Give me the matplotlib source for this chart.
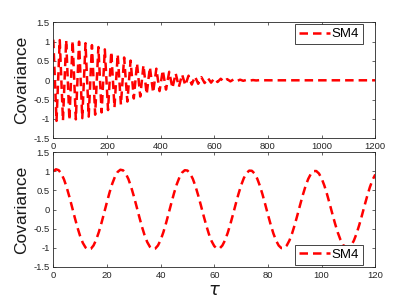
import matplotlib
matplotlib.use("Agg")
import matplotlib.pyplot as plt

# ---- data ----
tau_top = [0, 12, 24, 36, 48, 60, 72, 84, 96, 108, 120, 132, 144, 156, 168, 180, 192, 204, 216, 228,
           240, 252, 264, 276, 288, 300, 312, 324, 336, 348, 360, 372, 384, 396, 408, 420, 432, 444, 456, 468,
           480, 492, 504, 516, 528, 540, 552, 564, 576, 588, 600, 612, 624, 636, 648, 660, 672, 684, 696, 708,
           720, 732, 744, 756, 768, 780, 792, 804, 816, 828, 840, 852, 864, 876, 888, 900, 912, 924, 936, 948,
           960, 972, 984, 996, 1008, 1020, 1032, 1044, 1056, 1068, 1080, 1092, 1104, 1116, 1128, 1140, 1152, 1164,
           1176, 1188, 1200]
cov_top = [1.05, -1.05, 1.04, -1.04, 1.04, -1.03, 1.02, -1.01, 1.00, -0.98, 0.96, -0.94, 0.91, -0.89, 0.86,
           -0.83, 0.80, -0.77, 0.74, -0.70, 0.67, -0.63, 0.59, -0.55, 0.51, -0.47, 0.44, -0.42, 0.39, -0.36,
           0.34, -0.32, 0.30, -0.28, 0.26, -0.24, 0.22, -0.20, 0.18, -0.17, 0.15, -0.13, 0.12, -0.11, 0.10,
           -0.09, 0.08, -0.07, 0.06, -0.06, 0.05, -0.045, 0.04, -0.035, 0.03, -0.027, 0.023, -0.02, 0.016, -0.013,
           0.011, -0.009, 0.006, -0.004, 0.003, -0.002, 0.001, 0, 0, 0, 0, 0, 0, 0, 0, 0, 0, 0, 0, 0,
           0, 0, 0, 0, 0, 0, 0, 0, 0, 0, 0, 0, 0, 0, 0, 0, 0, 0, 0, 0, 0]

tau_bot = list(range(0, 121))
cov_bot = [0.999, 1.049, 1.026, 0.936, 0.782, 0.575, 0.329, 0.062, -0.211, -0.468,
           -0.694, -0.871, -0.990, -1.043, -1.025, -0.938, -0.786, -0.583, -0.340, -0.074,
           0.195, 0.453, 0.679, 0.860, 0.982, 1.037, 1.022, 0.939, 0.792, 0.591,
           0.350, 0.087, -0.182, -0.440, -0.667, -0.849, -0.973, -1.031, -1.019, -0.939,
           -0.795, -0.597, -0.360, -0.097, 0.170, 0.428, 0.655, 0.837, 0.963, 1.025,
           1.016, 0.939, 0.798, 0.605, 0.368, 0.109, -0.159, -0.414, -0.643, -0.827,
           -0.956, -1.019, -1.014, -0.940, -0.802, -0.610, -0.377, -0.120, 0.147, 0.403,
           0.632, 0.818, 0.948, 1.014, 1.010, 0.939, 0.804, 0.616, 0.385, 0.129,
           -0.137, -0.391, -0.621, -0.807, -0.940, -1.007, -1.008, -0.939, -0.807, -0.622,
           -0.393, -0.139, 0.126, 0.380, 0.610, 0.797, 0.931, 1.001, 1.004, 0.939,
           0.810, 0.627, 0.401, 0.149, -0.114, -0.368, -0.598, -0.787, -0.923, -0.995,
           -1.000, -0.939, -0.813, -0.632, -0.409, -0.159, 0.103, 0.356, 0.587, 0.776,
           0.913]

yticks = [-1.5, -1, -0.5, 0, 0.5, 1, 1.5]
ytick_labels = ["-1.5", "-1", "-0.5", "0", "0.5", "1", "1.5"]
xticks_top = [0, 200, 400, 600, 800, 1000, 1200]
xticks_bot = [0, 20, 40, 60, 80, 100, 120]
series_name = "SM4"
ylabel = "Covariance"
xlabel = r"$\tau$"

plt.rcParams['font.family'] = ['Liberation Sans', 'DejaVu Sans']
plt.rcParams['axes.unicode_minus'] = False

W, H = 415, 301
fig = plt.figure(figsize=(W / 100, H / 100), dpi=100)
axc = '0.15'
line_kw = dict(color=(1, 0, 0), lw=1.8, linestyle=(0, (3.4, 2.0)))

def style(ax, xt, xl):
    ax.set_xlim(*xl)
    ax.set_ylim(-1.5, 1.5)
    ax.set_xticks(xt)
    ax.set_xticklabels([str(v) for v in xt])
    ax.set_yticks(yticks)
    ax.set_yticklabels(ytick_labels)
    ax.tick_params(direction='in', top=True, right=True, length=2.4, width=0.5,
                   colors=axc, labelsize=6.8, pad=2.5)
    ax.tick_params(axis='x', pad=3)
    for s in ax.spines.values():
        s.set_color(axc)
        s.set_linewidth(0.6)
    ax.set_ylabel(ylabel, fontsize=12.5, labelpad=3, color='0.1')

ax1 = fig.add_axes([53.3 / W, 1 - 138.3 / H, 322 / W, 116 / H])
ax2 = fig.add_axes([53.3 / W, 1 - 267 / H, 322 / W, 115 / H])

ax1.plot(tau_top, cov_top, label=series_name, **line_kw)
ax2.plot(tau_bot, cov_bot, label=series_name, **line_kw)
style(ax1, xticks_top, (0, 1200))
style(ax2, xticks_bot, (0, 120))
ax2.set_xlabel(xlabel, fontsize=13, labelpad=1, color='0.1')

leg_kw = dict(fontsize=9.5, fancybox=False, framealpha=1, borderaxespad=0,
              handlelength=2.3, handletextpad=0.15, borderpad=0.3, edgecolor='0.15')
l1 = ax1.legend(loc='upper right', bbox_to_anchor=(0.962, 0.985), **leg_kw)
l2 = ax2.legend(loc='lower right', bbox_to_anchor=(0.962, 0.017), **leg_kw)
for l in (l1, l2):
    l.get_frame().set_linewidth(0.6)

fig.savefig('out.png', dpi=100)
